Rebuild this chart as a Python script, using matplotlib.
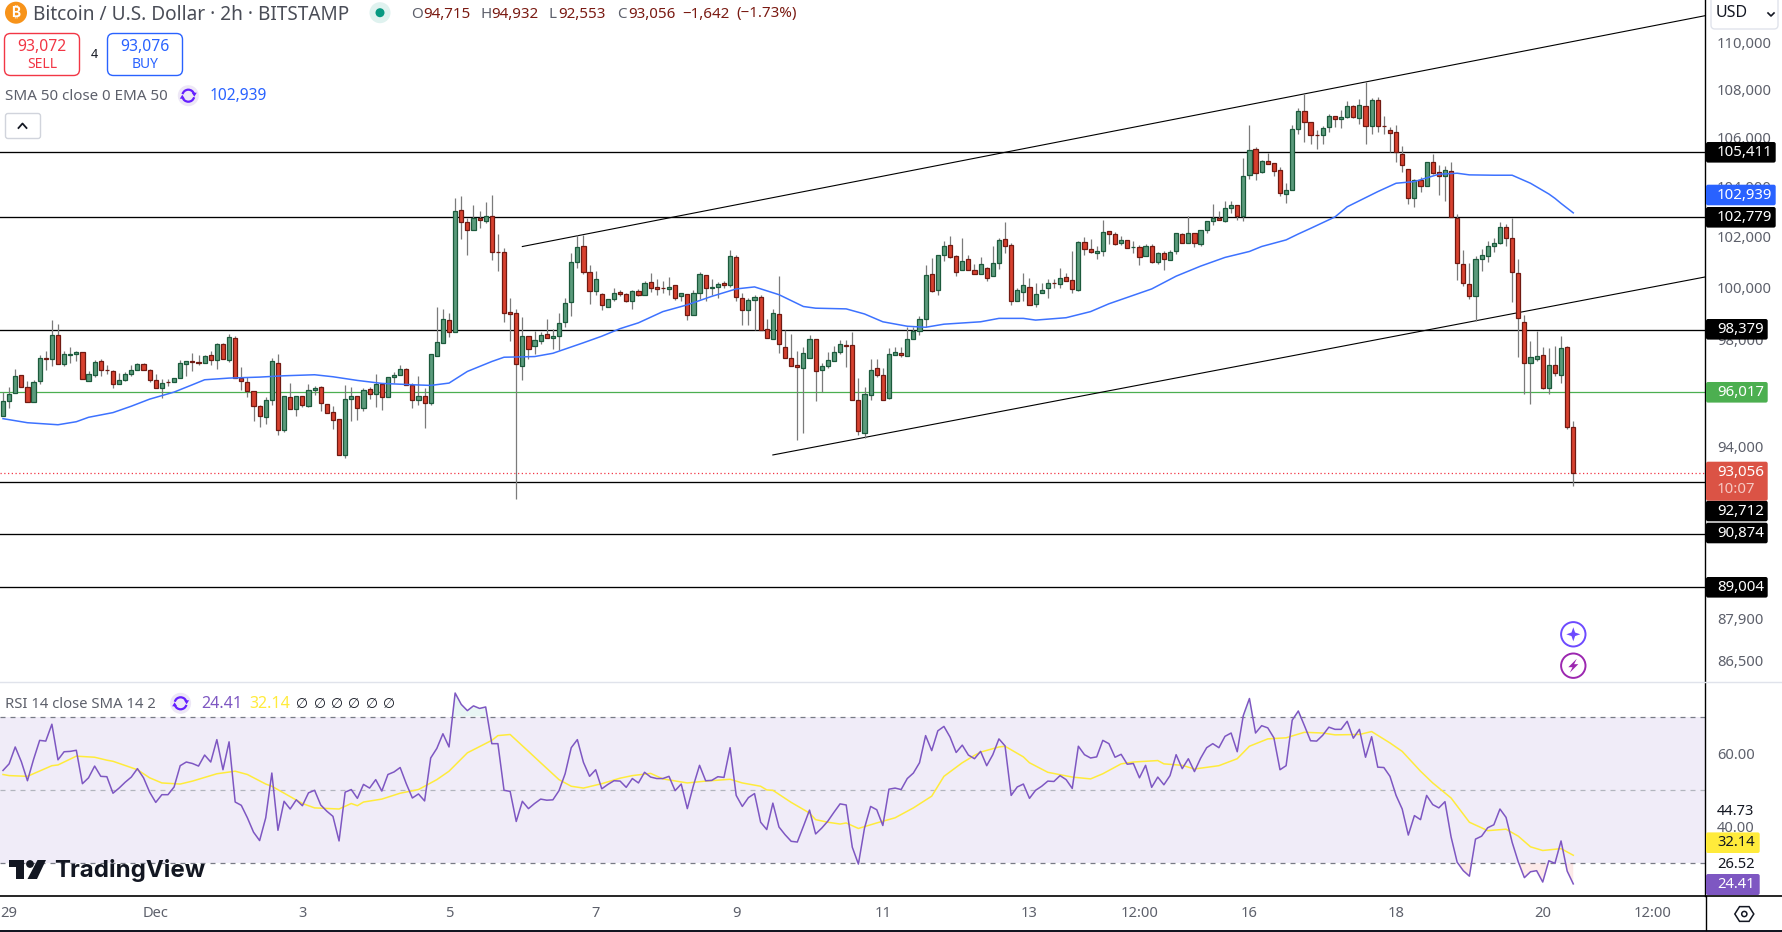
import matplotlib

matplotlib.use("Agg")

import matplotlib.pyplot as plt
import numpy as np
from matplotlib.patches import Arc, Circle, FancyBboxPatch, Polygon, Rectangle
from matplotlib.ticker import NullFormatter, NullLocator

plt.rcParams["font.family"] = ["Noto Sans", "DejaVu Sans"]

# Bougies 2h
opens = [
    95142, 95667, 95967, 96654, 96204, 95629, 96417, 97292, 97279, 98166,
    97054, 97430, 97467, 97517, 96442, 96642, 97179, 96842, 96804, 96304,
    96454, 96679, 96829, 97067, 96842, 96467, 96154, 96404, 96379, 96529,
    97054, 97179, 97142, 97092, 97404, 97242, 97829, 97242, 98042, 96542,
    96392, 96042, 95517, 95104, 95704, 97104, 94617, 95829, 95404, 95867,
    95517, 96079, 96204, 95567, 95267, 95004, 93679, 95742, 95867, 95442,
    96129, 95929, 96317, 95817, 96567, 96642, 96879, 96279, 95704, 95867,
    95592, 97392, 97879, 98731, 98291, 103052, 102571, 102281, 102767, 102634,
    102848, 101395, 101395, 99045, 99006, 96979, 98154, 97767, 97954, 98229,
    98066, 98141, 98679, 99435, 101003, 101654, 100611, 99890,
    99755, 99270, 99545, 99833, 99755, 99467, 99886, 99702, 100226, 100030,
    99990, 99938, 100108, 99663, 99755, 98956, 99781, 100501, 99990, 100017,
    100187, 100095, 101209, 99597, 99152, 99506, 99637, 98418, 98029, 98969,
    97704, 97316, 97029, 96904, 97316, 98004, 96829, 96979, 97204, 97541,
    97779, 97779, 95716, 94516, 95891, 96916, 96654, 95804, 97429, 97479,
    97366, 98029, 98329, 98772, 100541, 99912, 101274, 101680, 101248, 100685,
    101130, 100698, 100528, 100776, 100462, 100960, 101916, 101680, 99467, 99820,
    100030, 99349, 99781, 99990, 100187, 100135, 100423, 100305, 99899, 101798,
    101523, 101353, 101445, 102231, 102113, 101746, 101877, 101597, 101602, 101235,
    101641, 100999, 101366, 101091, 101432, 102113, 101759, 102152,
    101734, 102256, 102648, 102765, 102635, 103131, 103254, 102833, 104475, 105536,
    104597, 105045, 104963, 104679, 103729, 103864, 106364, 107109, 106653, 106115,
    106115, 106446, 106902, 106805, 106860, 107316, 106819, 107316, 106488, 107564,
    106488, 106322, 106240, 105330, 104719, 103538, 104271, 104027, 105004, 104597,
    104434, 104638, 102765, 100924, 100140, 99670, 101120, 101238, 101629, 101773,
    102374, 101943, 100572, 98691, 97104, 97279, 97404, 96166, 97029, 96654,
    97704, 94715,
]
highs = [
    96004, 96204, 96892, 96654, 96442, 96479, 97417, 97579, 98744, 98588,
    97579, 97729, 97567, 97517, 96792, 97229, 97254, 97042, 96854, 96729,
    96779, 97042, 97092, 97104, 96879, 96704, 96517, 96517, 96542, 97229,
    97204, 97492, 97417, 97417, 97567, 97879, 97879, 98204, 98129, 96967,
    96567, 96042, 95529, 95842, 97304, 97454, 95867, 96367, 95867, 95867,
    96329, 96254, 96254, 95567, 95504, 95004, 96292, 96204, 95867, 96154,
    96204, 96704, 96354, 96579, 96779, 97029, 96904, 96354, 96629, 96179,
    97442, 99241, 99175, 99006, 103552, 103634, 102767, 103267, 103035, 103390,
    103662, 102101, 101552, 99592, 99162, 98849, 98154, 98316, 98291, 98784,
    98391, 99006, 99606, 101368, 102073, 102073, 100897, 100635,
    99794, 99571, 99977, 99899, 99794, 99925, 99951, 100279, 100554, 100357,
    100252, 100436, 100108, 99794, 99755, 99925, 100593, 100501, 100344, 100239,
    100252, 101458, 101300, 99794, 99597, 99728, 99715, 98785, 99178, 100475,
    98354, 98229, 97566, 97729, 98166, 98004, 97104, 97516, 97766, 97979,
    97979, 98304, 96554, 96191, 97266, 97266, 96916, 97666, 97729, 97729,
    98484, 98484, 98903, 100868, 101170, 101287, 101851, 102021, 101300, 101969,
    101261, 100908, 101209, 100816, 101628, 101955, 102597, 101746, 100000, 100554,
    100384, 100187, 100187, 100344, 100344, 100776, 100554, 101432, 101825, 101982,
    101916, 101628, 102676, 102231, 102191, 102021, 101877, 101825, 101694, 101720,
    101720, 101392, 101432, 101497, 102152, 102152, 102833, 102152,
    102256, 102648, 103308, 103023, 103430, 103430, 103254, 105167, 106543, 105618,
    105099, 105371, 104991, 104801, 104149, 106543, 107261, 107826, 106653, 106322,
    106502, 107000, 106902, 107150, 107523, 107357, 107606, 108323, 107647, 107688,
    106916, 106474, 106543, 105660, 104719, 104339, 104393, 105004, 105330, 104882,
    104841, 105004, 102928, 101473, 100963, 101224, 101512, 101825, 101943, 102570,
    102491, 102765, 101120, 98926, 97942, 98316, 97704, 97666, 97741, 98129,
    97741, 94932,
]
lows = [
    95142, 95441, 95967, 96192, 95629, 95629, 96329, 96854, 96979, 97054,
    96979, 97129, 97192, 96492, 96417, 96592, 96629, 96692, 96154, 96304,
    96429, 96604, 96829, 96829, 96404, 96154, 95779, 96254, 96379, 96529,
    96629, 96792, 97042, 97092, 97042, 96892, 97254, 97167, 96529, 96104,
    95842, 94942, 94729, 94842, 95554, 94429, 94542, 95404, 95129, 95479,
    95479, 95917, 95329, 95229, 94642, 93679, 93567, 94954, 94979, 95329,
    95767, 95479, 95354, 95817, 96354, 96642, 96267, 95441, 95554, 94692,
    95554, 97392, 97879, 98104, 98291, 101928, 101262, 102281, 102348, 102556,
    101093, 100635, 98663, 97954, 92100, 96479, 97279, 97454, 97817, 98066,
    97641, 97592, 98470, 98910, 100752, 100545, 99357, 99721,
    99139, 99244, 99467, 99689, 99453, 99178, 99663, 99702, 99820, 99728,
    99794, 99728, 99532, 99467, 98746, 98956, 99571, 99467, 99702, 99597,
    99990, 100030, 99467, 98550, 98550, 98379, 98379, 98054, 98029, 97504,
    97316, 96979, 94241, 94504, 97316, 95666, 96016, 96916, 97204, 97454,
    96941, 95716, 94416, 94329, 95704, 96566, 95716, 95766, 97429, 97354,
    97366, 98029, 98166, 98484, 99820, 99728, 101039, 101170, 100475, 100685,
    100685, 100528, 100528, 100252, 100462, 100724, 101340, 99336, 99467, 99467,
    99309, 99270, 99781, 99584, 99990, 99990, 100252, 99781, 99860, 101274,
    101366, 101104, 101235, 101720, 101680, 101694, 101549, 101366, 100881, 101235,
    100973, 100908, 100685, 101065, 101327, 101759, 101759, 101589,
    101655, 102165, 102465, 102687, 102596, 102969, 102661, 102622, 104339, 104298,
    104556, 104950, 104448, 103647, 103362, 103864, 106169, 105846, 105740, 105564,
    105756, 106267, 106474, 106419, 106819, 106833, 106571, 105770, 106184, 106267,
    106184, 105411, 105031, 104624, 103308, 103199, 103783, 104027, 104529, 103674,
    103443, 102792, 100284, 100049, 99579, 98717, 100637, 100989, 101394, 101734,
    101655, 99461, 97354, 95935, 95562, 97204, 96129, 95931, 96632, 96374,
    94640, 92553,
]
closes = [
    95692, 95942, 96617, 96192, 95629, 96392, 97292, 97279, 98166, 97054,
    97442, 97442, 97517, 96492, 96692, 97142, 96829, 96829, 96304, 96467,
    96692, 96842, 97067, 96829, 96454, 96154, 96354, 96379, 96542, 97104,
    97179, 97167, 97092, 97367, 97242, 97817, 97279, 98092, 96529, 96417,
    96042, 95517, 95142, 95717, 97179, 94617, 95867, 95404, 95867, 95554,
    96092, 96167, 95592, 95254, 94992, 93679, 95754, 95867, 95442, 96092,
    95929, 96329, 95817, 96579, 96654, 96879, 96267, 95704, 95867, 95592,
    97442, 97892, 98771, 98291, 103023, 102571, 102281, 102767, 102650, 102848,
    101395, 101387, 99030, 98990, 97067, 98154, 97654, 97967, 98191, 98066,
    98154, 98653, 99397, 101003, 101615, 100595, 99890, 100337,
    99309, 99571, 99794, 99755, 99467, 99873, 99702, 100187, 99990, 99938,
    99985, 100030, 99584, 99794, 98956, 99794, 100515, 99990, 100030, 100161,
    100095, 101248, 99637, 99152, 99519, 99637, 98379, 98079, 99008, 97816,
    97316, 96979, 96941, 97479, 98004, 96791, 96991, 97216, 97516, 97816,
    97774, 95716, 94591, 95941, 96841, 96641, 95716, 97441, 97516, 97416,
    98004, 98316, 98772, 100501, 99873, 101287, 101641, 101209, 100619, 101052,
    100685, 100528, 100934, 100384, 100973, 101877, 101628, 99467, 99912, 100108,
    99336, 99755, 99912, 100187, 100180, 100384, 100252, 99938, 101798, 101510,
    101405, 101445, 102191, 102100, 101720, 101877, 101562, 101602, 101209, 101641,
    101012, 101366, 101130, 101405, 102152, 101759, 102152, 101759,
    102256, 102648, 102752, 102687, 103131, 103254, 102833, 104434, 105494, 104556,
    105045, 104950, 104665, 103742, 103864, 106391, 107109, 106653, 106115, 106110,
    106405, 106902, 106805, 106860, 107316, 106860, 107357, 106488, 107564, 106488,
    106480, 106198, 105439, 104882, 103538, 104271, 104027, 105004, 104556, 104434,
    104679, 102792, 100963, 100167, 99670, 101120, 101277, 101629, 101747, 102374,
    101943, 100611, 98808, 97104, 97329, 97366, 96166, 97029, 96729, 97666,
    94713, 93056,
]

# EMA 50 (indice de bougie, prix)
ema_bars = [
    0, 4, 9, 12, 14, 18, 21, 24, 28, 31, 33, 37, 42, 46, 51, 54, 58, 62, 67, 70,
    73, 76, 80, 82, 87, 90, 95, 98, 101, 104, 108, 112, 116, 120, 123, 127, 131,
    133, 138, 141, 144, 148, 151, 154, 160, 163, 167, 169, 174, 178, 181, 188,
    192, 196, 200, 204, 206, 210, 212, 214, 218, 220, 225, 228, 231, 235, 238,
    240, 244, 247, 250, 253, 254, 255, 257,
]
ema_vals = [
    95029, 94879, 94804, 94916, 95079, 95254, 95491, 95754, 96017, 96292, 96479,
    96542, 96579, 96629, 96667, 96592, 96454, 96342, 96292, 96267, 96354, 96792,
    97167, 97329, 97354, 97479, 97879, 98129, 98418, 98641, 99073, 99335, 99663,
    99951, 100030, 99728, 99270, 99205, 99178, 98982, 98681, 98510, 98471, 98589,
    98681, 98812, 98812, 98746, 98838, 99073, 99375, 99951, 100449, 100842, 101185,
    101420, 101616, 101877, 102113, 102335, 102792, 103199, 103810, 104149, 104217,
    104516, 104556, 104489, 104475, 104475, 104149, 103715, 103539, 103335, 102955,
]

# RSI 14, une valeur par bougie
rsi_vals = [
    55.3, 57.1, 61.7, 57.7, 52.5, 58.3, 63.5, 63.3, 67.9, 58.2,
    60.4, 60.5, 60.8, 51.7, 53.3, 56.5, 53.7, 53.6, 49.1, 50.5,
    52.1, 53.5, 55.8, 53.3, 49.4, 46.6, 48.7, 48.7, 50.8, 56.6,
    57.6, 57.2, 56.5, 59.5, 57.6, 63.7, 55.5, 63.1, 46.7, 45.8,
    42.4, 38.5, 36.2, 42.4, 54.6, 39.0, 46.9, 44.8, 47.3, 45.7,
    49.2, 49.9, 45.9, 44.2, 42.8, 36.1, 49.4, 50.1, 47.7, 51.5,
    50.5, 52.8, 49.7, 54.2, 54.9, 56.1, 51.7, 47.8, 48.9, 47.0,
    58.7, 61.3, 65.3, 61.7, 76.4, 73.3, 71.6, 72.9, 72.2, 72.6,
    62.6, 62.6, 49.9, 49.6, 41.4, 46.9, 44.9, 46.3, 47.5, 47.2,
    47.3, 49.8, 54.4, 61.5, 63.7, 57.5, 53.7, 55.5,
    50.3, 51.5, 52.5, 52.4, 50.7, 53.1, 51.9, 54.8, 53.5, 53.1,
    53.1, 53.7, 49.8, 51.6, 44.9, 51.2, 56.7, 52.5, 52.6, 53.6,
    53.4, 61.5, 48.5, 45.5, 47.9, 49.0, 41.2, 39.2, 46.4, 39.9,
    37.8, 36.0, 35.8, 40.1, 44.5, 38.0, 39.6, 41.5, 43.9, 46.2,
    45.9, 34.4, 29.8, 39.6, 45.5, 44.6, 40.3, 50.2, 50.5, 50.1,
    53.1, 54.6, 57.4, 64.8, 60.7, 66.1, 67.3, 64.4, 60.2, 62.2,
    59.5, 58.5, 60.5, 56.6, 59.6, 63.9, 62.0, 48.5, 50.8, 51.6,
    47.7, 49.9, 51.0, 52.4, 52.3, 53.9, 52.8, 50.4, 61.9, 59.6,
    58.7, 59.0,
    63.5, 62.6, 58.9, 59.7, 57.0, 57.2, 53.3, 56.7, 50.7, 53.5,
    51.4, 53.9, 59.6, 55.8, 58.5, 55.0, 58.6, 61.5, 62.6, 61.5,
    64.6, 65.5, 60.4, 70.3, 74.9, 65.5, 67.5, 66.9, 64.2, 55.5,
    56.6, 69.0, 71.5, 67.5, 63.4, 63.3, 64.9, 67.1, 66.5, 66.5,
    68.7, 64.1, 66.5, 58.9, 64.5, 56.2, 56.1, 53.7, 48.5, 44.8,
    37.7, 43.0, 41.9, 48.5, 46.0, 45.1, 46.8, 37.2, 30.3, 28.0,
    26.5, 36.6, 37.4, 39.7, 40.5, 44.8, 42.5, 35.7, 30.4, 26.1,
    27.7, 28.0, 24.9, 30.7, 30.0, 36.1, 27.9, 24.4,
]

# SMA 14 du RSI
sma_bars = [
    0, 1, 4, 8, 9, 12, 15, 17, 18, 22, 24, 26, 29, 31, 35, 38, 40, 43, 44, 49, 51,
    55, 57, 58, 59, 62, 65, 68, 71, 73, 76, 80, 81, 83, 86, 88, 91, 93, 95, 98, 101,
    103, 106, 108, 112, 115, 119, 121, 124, 125, 126, 129, 132, 133, 135, 137, 138,
    140, 143, 146, 149, 152, 154, 157, 159, 160, 163, 164, 167, 168, 171, 175, 178,
    180, 183, 185, 189, 190, 193, 195, 199, 202, 204, 207, 210, 213, 216, 218, 222,
    224, 227, 229, 232, 234, 237, 240, 243, 246, 248, 250, 252, 255, 257,
]
sma_vals = [
    54.2, 53.9, 53.7, 56.6, 56.8, 59.2, 58.9, 58.1, 57.8, 55.5, 53.3, 51.9, 51.6,
    52.4, 54.4, 55.1, 54.2, 51.6, 51.0, 46.3, 45.1, 44.8, 46.3, 45.7, 46.7, 47.5,
    49.1, 50.1, 52.8, 55.1, 60.1, 63.5, 64.8, 65.1, 60.5, 57.4, 52.8, 51.0, 50.5,
    51.7, 53.2, 53.9, 54.5, 53.0, 51.9, 52.4, 52.9, 51.9, 51.0, 50.0, 49.9, 46.6,
    43.7, 41.9, 41.2, 40.7, 41.0, 39.5, 41.0, 42.4, 45.1, 48.3, 53.7, 57.4, 59.4,
    60.3, 61.7, 61.9, 59.0, 57.4, 54.8, 53.5, 53.0, 54.4, 57.1, 57.6, 58.0, 57.1,
    56.7, 55.7, 56.6, 58.5, 61.9, 63.9, 64.2, 65.7, 65.5, 65.0, 65.1, 65.9, 62.8,
    60.5, 55.1, 51.9, 47.8, 41.2, 38.9, 39.3, 37.4, 34.5, 33.5, 34.0, 32.2,
]

levels = [105411, 102779, 98379, 92712, 90874, 89004]
price_ticks = [110000, 108000, 106000, 104000, 102000, 100000, 98000, 94000, 89200, 87900, 86500]
time_ticks = [1, 25, 49, 73, 97, 120, 144, 168, 186, 204, 228, 252, 270]
time_labels = ["29", "Dec", "3", "5", "7", "9", "11", "13", "12:00", "16", "18", "20", "12:00"]

# Canal haussier (indice de bougie, prix)
upper_bars, upper_prices = [85, 278.56], [101615, 111168]
lower_bars, lower_prices = [126, 278.56], [93696, 100417]

GREY = "#5d606b"
BLUE = "#2962ff"
PURPLE = "#7e57c2"

W, H = 1782, 932
fig = plt.figure(figsize=(W / 100, H / 100), dpi=100, facecolor="white")
ax = fig.add_axes([0, (H - 682) / H, 1705 / W, 682 / H])
rsi_ax = fig.add_axes([0, (H - 896) / H, 1705 / W, 214 / H], sharex=ax)

# Prix
idx = np.arange(len(opens))
o = np.array(opens)
h = np.array(highs)
l = np.array(lows)
c = np.array(closes)
up = c >= o

ax.set_yscale("log")
ax.hlines(levels, -1, 280, color="black", lw=0.95, zorder=1)
ax.axhline(96017, color="#4caf50", lw=0.9, zorder=1)
ax.axhline(93056, color="#f23645", lw=0.9, ls=(0, (1, 2)), zorder=1)
ax.plot(upper_bars, upper_prices, color="black", lw=0.8, zorder=1)
ax.plot(lower_bars, lower_prices, color="black", lw=0.8, zorder=1)
ax.vlines(idx, l, h, color="#7b7b7b", lw=0.9, zorder=2)
ax.bar(idx[up], (c - o)[up], bottom=o[up], width=0.68, color="#5b9b7c", edgecolor="#1c5a3c", linewidth=0.9, zorder=3)
ax.bar(idx[~up], (o - c)[~up], bottom=c[~up], width=0.68, color="#d8412f", edgecolor="#701a12", linewidth=0.9, zorder=3)
ax.plot(ema_bars, ema_vals, color="#3d72ff", lw=1.1, zorder=4)

ax.set_xlim(-0.491, 278.56)
ax.set_ylim(85770, 111850)
ax.yaxis.tick_right()
ax.set_yticks(price_ticks)
ax.set_yticklabels([f"{t:,}" for t in price_ticks], color=GREY, fontsize=10.6)
ax.yaxis.set_minor_locator(NullLocator())
ax.yaxis.set_minor_formatter(NullFormatter())
ax.tick_params(axis="y", length=0, pad=8.5)
ax.tick_params(axis="x", length=0, labelbottom=False)
for side in ["top", "left", "bottom"]:
    ax.spines[side].set_visible(False)
ax.spines["right"].set_linewidth(1.0)

# RSI
rsi = np.array(rsi_vals)
rsi_ax.axhspan(30, 70, color="#f0ecf8", lw=0, zorder=0)
rsi_ax.axhline(70, color="#787b86", lw=0.9, ls=(0, (4, 4)), zorder=1)
rsi_ax.axhline(50, color="#b2b5be", lw=0.9, ls=(0, (4, 4)), zorder=1)
rsi_ax.axhline(30, color="#787b86", lw=0.9, ls=(0, (4, 4)), zorder=1)
rsi_ax.fill_between(idx, rsi, 70, where=rsi > 70, interpolate=True, color="#26a69a", alpha=0.1, lw=0, zorder=1)
rsi_ax.fill_between(idx, rsi, 30, where=rsi < 30, interpolate=True, color="#ef5350", alpha=0.12, lw=0, zorder=1)
rsi_ax.plot(sma_bars, sma_vals, color="#ffeb3b", lw=1.1, zorder=2)
rsi_ax.plot(idx, rsi, color=PURPLE, lw=1.1, zorder=3)
rsi_ax.set_ylim(21.1, 79.4)
rsi_ax.yaxis.tick_right()
rsi_ax.set_yticks([60, 40])
rsi_ax.set_yticklabels(["60.00", "40.00"], color=GREY, fontsize=10.6)
rsi_ax.tick_params(axis="y", length=0, pad=8.5)
rsi_ax.set_xticks(time_ticks)
rsi_ax.set_xticklabels(time_labels, color=GREY, fontsize=10.6)
rsi_ax.get_xticklabels()[1].set_fontweight("bold")
rsi_ax.tick_params(axis="x", length=0, pad=7.5)
for side in ["top", "left"]:
    rsi_ax.spines[side].set_visible(False)
rsi_ax.spines["right"].set_linewidth(1.0)
rsi_ax.spines["bottom"].set_visible(False)

# Habillage en pixels
over = fig.add_axes([0, 0, 1, 1], zorder=10)
over.set_xlim(0, W)
over.set_ylim(H, 0)
over.axis("off")
over.patch.set_alpha(0)


def txt(x, y, s, color=GREY, size=10, ha="left", **kw):
    over.text(x, y + 1.5, s, color=color, fontsize=size, ha=ha, va="center", **kw)


def box(x0, y0, x1, y1, fc, ec="none", r=2.5, lw=1.0):
    over.add_patch(FancyBboxPatch((x0 + r, y0 + r), x1 - x0 - 2 * r, y1 - y0 - 2 * r,
                                  boxstyle=f"round,pad={r}", fc=fc, ec=ec, lw=lw))


def refresh(x, y):
    over.add_patch(Circle((x, y), 10.5, fc="#ede7f6", ec="none"))
    over.add_patch(Arc((x, y), 12, 12, theta1=195, theta2=345, color="#651fff", lw=1.6))
    over.add_patch(Arc((x, y), 12, 12, theta1=15, theta2=165, color="#651fff", lw=1.6))
    over.add_patch(Polygon([[x + 3.5, y - 3], [x + 8.5, y - 3], [x + 6, y + 1]], fc="#651fff"))
    over.add_patch(Polygon([[x - 8.5, y + 3], [x - 3.5, y + 3], [x - 6, y - 1]], fc="#651fff"))


# Lignes du cadre
over.plot([0, W], [682, 682], color="#e0e3eb", lw=1.0)
over.plot([0, W], [896, 896], color="black", lw=1.2)
over.plot([1705.5, 1705.5], [896, 930], color="black", lw=1.0)
over.add_patch(Rectangle((0, 930), W, 2, fc="#131722", ec="none"))

# En-tête
over.add_patch(Circle((16, 12.7), 11, fc="#f7931a", ec="none"))
txt(16, 11.5, "₿", color="white", size=10, ha="center", family=["Inter", "Noto Sans", "DejaVu Sans"], weight="bold")
txt(33, 13, "Bitcoin / U.S. Dollar · 2h · BITSTAMP", color="#4a4d57", size=13.7)
over.add_patch(Circle((380, 12.7), 10.5, fc="#dff2ef", ec="none"))
over.add_patch(Circle((380, 12.7), 4.5, fc="#089981", ec="none"))
for x, s, col in [(411, "O", GREY), (423, "94,715", "#7a1a12"), (480, "H", GREY), (491, "94,932", "#7a1a12"),
                  (548, "L", GREY), (558, "92,553", "#7a1a12"), (617, "C", GREY), (628, "93,056", "#7a1a12"),
                  (682, "−1,642", "#7a1a12"), (736, "(−1.73%)", "#7a1a12")]:
    txt(x, 12.5, s, color=col, size=10.9)

box(4.5, 33.5, 79.5, 75.5, "white", "#f23645", r=6)
txt(42, 45.5, "93,072", color="#f23645", size=11.3, ha="center")
txt(42, 63, "SELL", color="#f23645", size=10, ha="center")
txt(94, 52.5, "4", color="#131722", size=9, ha="center")
box(107.5, 33.5, 182.5, 75.5, "white", BLUE, r=6)
txt(145, 45.5, "93,076", color=BLUE, size=11.3, ha="center")
txt(145, 63, "BUY", color=BLUE, size=10, ha="center")

txt(5, 94.5, "SMA 50 close 0 EMA 50", size=10.9)
refresh(188.3, 95.7)
txt(210, 94.5, "102,939", color=BLUE, size=11.2)
box(5.5, 113.5, 40.5, 138.5, "white", "#d1d4dc", r=2.5)
over.plot([18.5, 22.5, 26.5], [128, 123.5, 128], color="#131722", lw=1.3)

# Bouton USD
box(1711, -4, 1778, 29, "white", "#e0e3eb", r=4)
txt(1716, 11.5, "USD", color="#131722", size=11.5)
over.plot([1768, 1771, 1774], [13, 16, 13], color="#131722", lw=1.2)

# Étiquettes de prix
for yc, s, col, right in [(152.3, "105,411", "black", 1775.7), (195, "102,939", BLUE, 1775.7),
                          (217.3, "102,779", "black", 1775.7), (329.3, "98,379", "black", 1767.7),
                          (392.3, "96,017", "#4caf50", 1767.7), (511, "92,712", "black", 1767.7),
                          (533, "90,874", "black", 1767.7), (587.3, "89,004", "black", 1767.7)]:
    box(1706, yc - 10.3, right, yc + 10.3, col, r=2)
    txt(1717, yc - 1, s, color="white", size=10.8)
box(1706, 461.7, 1767.7, 500.7, "#db5345", r=2)
txt(1717, 470.5, "93,056", color="white", size=10.8)
txt(1717, 488.3, "10:07", color="#f6c9c3", size=10.8)

box(1706, 832.4, 1759.7, 853, "#ffeb3b", r=2)
txt(1717, 841.5, "32.14", color="#131722", size=10.6)
box(1706, 874, 1759.7, 895, PURPLE, r=2)
txt(1717, 883, "24.41", color="white", size=10.6)
txt(1717, 810, "44.73", color="#131722", size=10.6)
txt(1717, 863.3, "26.52", color="#131722", size=10.6)

# Icônes près de la dernière bougie
over.add_patch(Circle((1573.3, 634.3), 12.2, fc="white", ec="#6d4aff", lw=1.4))
sx, sy = 1573.3, 634.3
over.add_patch(Polygon([[sx, sy - 7], [sx + 1.8, sy - 1.8], [sx + 7, sy], [sx + 1.8, sy + 1.8],
                        [sx, sy + 7], [sx - 1.8, sy + 1.8], [sx - 7, sy], [sx - 1.8, sy - 1.8]], fc="#6d4aff"))
over.add_patch(Circle((1573.3, 665.7), 12.2, fc="white", ec="#9c27b0", lw=1.4))
sx, sy = 1573.3, 665.7
over.add_patch(Polygon([[sx + 3.5, sy - 7], [sx - 5, sy + 1.5], [sx - 0.8, sy + 1.5], [sx - 3.5, sy + 7],
                        [sx + 5, sy - 1.5], [sx + 0.8, sy - 1.5]], fc="#9c27b0"))

# Légende RSI
txt(5, 702.5, "RSI 14 close SMA 14 2", size=10.7)
refresh(180.6, 703.3)
txt(201.7, 702.5, "24.41", color=PURPLE, size=11.5)
txt(249, 702.5, "32.14", color="#ffeb3b", size=11.5)
for x in [302, 319.6, 337, 354.4, 372, 389.2]:
    txt(x, 702, "∅", color="#131722", size=10, ha="center", family="DejaVu Sans")

# Logo TradingView
over.add_patch(Polygon([[8.5, 860], [24, 860], [24, 879], [16, 879], [16, 867], [8.5, 867]], fc="#131722"))
over.add_patch(Circle((30, 864), 3.9, fc="#131722"))
over.add_patch(Polygon([[37.5, 860], [46, 860], [37, 879], [27.5, 879]], fc="#131722"))
txt(54, 869.5, "TradingView", color="#131722", size=17.3, family="Inter", weight="bold")

# Réglages
hx, hy = 1744.3, 914
angles = np.deg2rad(np.arange(0, 360, 60))
over.add_patch(Polygon(np.c_[hx + 9.5 * np.cos(angles), hy + 8.5 * np.sin(angles)], fc="white", ec="#131722", lw=1.1))
over.add_patch(Circle((hx, hy), 2.6, fc="white", ec="#131722", lw=1.1))

fig.savefig("out.png", dpi=100, facecolor="white")
